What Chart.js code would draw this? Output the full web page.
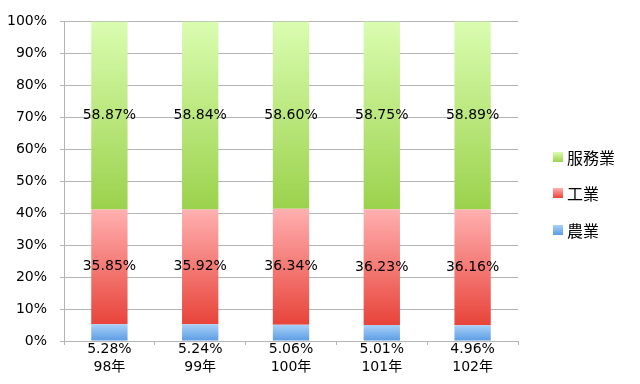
<!DOCTYPE html>
<html><head><meta charset="utf-8">
<script src="https://cdn.jsdelivr.net/npm/chart.js@4"></script>
<style>html,body{margin:0;padding:0;background:#fff}#wrap{width:640px;height:384px}</style>
</head><body><div id="wrap"><canvas id="c" width="640" height="384"></canvas></div>
<script>
const years = ['98年', '99年', '100年', '101年', '102年'];
const agriculture = [5.28, 5.24, 5.06, 5.01, 4.96];
const industry = [35.85, 35.92, 36.34, 36.23, 36.16];
const services = [58.87, 58.84, 58.60, 58.75, 58.89];
const seriesNames = ['農業', '工業', '服務業'];
const yTickStep = 10;

const seriesValues = [agriculture, industry, services];
const stopsList = [
  ['#a9d1f8', '#5a9ce4'],
  ['#ffb0b0', '#e8443a'],
  ['#dafdb0', '#9bd24c']
];
const FONT = "'DejaVu Sans', 'Noto Sans CJK TC', sans-serif";

function gradFor(dsIndex) {
  return function (ctx) {
    const chart = ctx.chart;
    const ca = chart.chartArea;
    const stops = stopsList[dsIndex];
    if (!ca) return stops[1];
    const i = ctx.dataIndex ?? 0;
    let base = 0;
    for (let k = 0; k < dsIndex; k++) base += seriesValues[k][i];
    const top = base + seriesValues[dsIndex][i];
    const y0 = chart.scales.y.getPixelForValue(top);
    const y1 = chart.scales.y.getPixelForValue(base);
    const g = chart.ctx.createLinearGradient(0, y0, 0, y1);
    g.addColorStop(0, stops[0]);
    g.addColorStop(1, stops[1]);
    return g;
  };
}

const labelPlugin = {
  id: 'segLabels',
  afterDatasetsDraw(chart) {
    const c = chart.ctx;
    c.save();
    c.font = '14px ' + FONT;
    c.fillStyle = '#000';
    c.textAlign = 'center';
    c.textBaseline = 'middle';
    [1, 2].forEach(di => {
      const meta = chart.getDatasetMeta(di);
      meta.data.forEach((el, i) => {
        const v = seriesValues[di][i];
        c.fillText(v.toFixed(2) + '%', el.x, (el.y + el.base) / 2);
      });
    });
    c.restore();
  }
};

const legendPlugin = {
  id: 'sideLegend',
  afterDraw(chart) {
    const c = chart.ctx;
    c.save();
    const ys = [157, 193, 230];
    const order = [2, 1, 0];
    order.forEach((di, k) => {
      const y = ys[k];
      const g = c.createLinearGradient(0, y - 5, 0, y + 5);
      g.addColorStop(0, stopsList[di][0]);
      g.addColorStop(1, stopsList[di][1]);
      c.fillStyle = g;
      c.fillRect(553, y - 5, 10, 10);
      c.fillStyle = '#000';
      c.font = "16px 'Noto Sans CJK TC', sans-serif";
      c.textAlign = 'left';
      c.textBaseline = 'middle';
      c.fillText(seriesNames[di], 567, y + 1);
    });
    c.restore();
  }
};

new Chart(document.getElementById('c'), {
  type: 'bar',
  data: {
    labels: years,
    datasets: seriesValues.map((vals, di) => ({
      label: seriesNames[di],
      data: vals,
      backgroundColor: gradFor(di),
      borderWidth: 0,
      categoryPercentage: 1,
      barPercentage: 0.4
    }))
  },
  options: {
    responsive: false,
    animation: false,
    layout: { padding: { top: 21, right: 122, left: 0, bottom: 0 } },
    plugins: { legend: { display: false }, tooltip: { enabled: false } },
    scales: {
      x: {
        stacked: true,
        offset: true,
        grid: { display: true, drawOnChartArea: false, tickLength: 4, color: '#b5b5b5', offset: true },
        border: { display: true, color: '#b5b5b5' },
        ticks: {
          font: { family: FONT, size: 14, lineHeight: 1.25 },
          color: '#000',
          padding: -4,
          maxRotation: 0,
          autoSkip: false,
          callback: (v, i) => [agriculture[i].toFixed(2) + '%', years[i]]
        },
        afterFit: s => { s.height = 43; }
      },
      y: {
        stacked: true,
        min: 0,
        max: 100,
        grid: { color: '#b5b5b5', tickLength: 4 },
        border: { display: true, color: '#b5b5b5' },
        ticks: {
          stepSize: yTickStep,
          font: { family: FONT, size: 14 },
          color: '#000',
          padding: 13,
          callback: v => v + '%'
        },
        afterFit: s => { s.width = 64; }
      }
    }
  },
  plugins: [labelPlugin, legendPlugin]
});
</script>
</body></html>
